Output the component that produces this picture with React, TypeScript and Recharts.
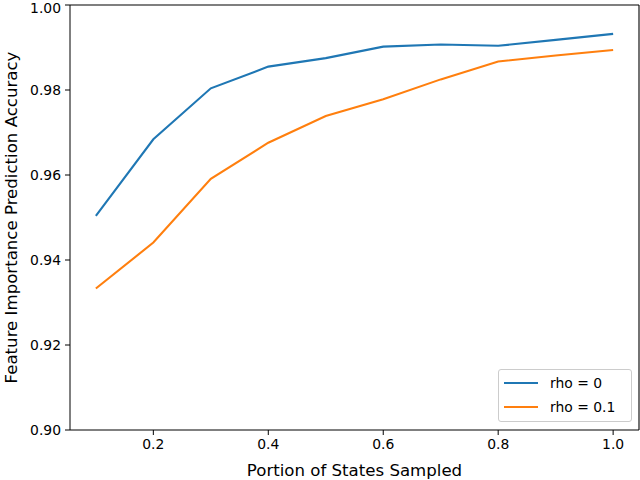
import React from "react";
import {
  LineChart,
  Line,
  XAxis,
  YAxis,
  Legend,
  ReferenceLine,
} from "recharts";

// x: portion of states sampled
const portions = [0.1, 0.2, 0.3, 0.4, 0.5, 0.6, 0.7, 0.8, 0.9, 1.0];
const rho0 = [0.9504, 0.9684, 0.9804, 0.9855, 0.9875, 0.9902, 0.9907, 0.9904, 0.9918, 0.9932];
const rho01 = [0.9333, 0.9441, 0.9591, 0.9676, 0.9739, 0.9778, 0.9825, 0.9867, 0.9881, 0.9894];

const xTicks = [0.2, 0.4, 0.6, 0.8, 1.0];
const yTicks = [0.9, 0.92, 0.94, 0.96, 0.98, 1.0];

const seriesNames = ["rho = 0", "rho = 0.1"];
const colors = ["#1f77b4", "#ff7f0e"];

const data = portions.map((p, i) => ({ x: p, a: rho0[i], b: rho01[i] }));

const FONT = "DejaVu Sans, sans-serif";
const FS = 13.9;
const LABEL_FS = 16.6;

const LegendBox = () => (
  <div
    style={{
      width: 134,
      height: 53,
      boxSizing: "border-box",
      border: "1px solid #cccccc",
      borderRadius: 3,
      background: "rgba(255,255,255,0.8)",
      fontFamily: FONT,
      fontSize: FS,
      position: "relative",
    }}
  >
    {seriesNames.map((name, i) => (
      <div
        key={name}
        style={{ position: "absolute", left: 5, top: 4 + i * 24, height: 18, display: "flex", alignItems: "center" }}
      >
        <div style={{ width: 34, height: 2.1, background: colors[i] }} />
        <span style={{ marginLeft: 12, color: "#000", whiteSpace: "nowrap" }}>{name}</span>
      </div>
    ))}
  </div>
);

export default function App() {
  return (
    <div style={{ position: "absolute", left: 0, top: 0, background: "#fff" }}>
      <LineChart width={640} height={480} data={data} margin={{ top: 5, right: 1, bottom: 0, left: 0 }}>
        <XAxis
          dataKey="x"
          type="number"
          domain={[0.055, 1.045]}
          ticks={xTicks}
          tickFormatter={(v: number) => v.toFixed(1)}
          height={50}
          tickSize={5}
          tickMargin={4}
          stroke="#000"
          tick={{ fill: "#000", fontFamily: FONT, fontSize: FS }}
          label={{
            content: (props: any) => {
              const vb = props.viewBox;
              return (
                <text x={vb.x + vb.width / 2} y={476} textAnchor="middle" fontFamily={FONT} fontSize={LABEL_FS} fill="#000">
                  Portion of States Sampled
                </text>
              );
            },
          }}
        />
        <YAxis
          type="number"
          domain={[0.9, 1.0]}
          ticks={yTicks}
          tickFormatter={(v: number) => v.toFixed(2)}
          width={70}
          tickSize={5}
          tickMargin={4}
          stroke="#000"
          tick={{ fill: "#000", fontFamily: FONT, fontSize: FS }}
          label={{
            content: (props: any) => {
              const vb = props.viewBox;
              const cy = vb.y + vb.height / 2;
              return (
                <text
                  x={16.5}
                  y={cy}
                  textAnchor="middle"
                  transform={`rotate(-90, 16.5, ${cy})`}
                  fontFamily={FONT}
                  fontSize={LABEL_FS}
                  fill="#000"
                >
                  Feature Importance Prediction Accuracy
                </text>
              );
            },
          }}
        />
        <ReferenceLine y={1.0} stroke="#000" strokeWidth={1.1} />
        <ReferenceLine x={1.045} stroke="#000" strokeWidth={1.1} />
        <Line type="linear" dataKey="a" name={seriesNames[0]} stroke={colors[0]} strokeWidth={2.1} dot={false} isAnimationActive={false} />
        <Line type="linear" dataKey="b" name={seriesNames[1]} stroke={colors[1]} strokeWidth={2.1} dot={false} isAnimationActive={false} />
        <Legend
          layout="vertical"
          align="center"
          verticalAlign="middle"
          content={() => <LegendBox />}
          wrapperStyle={{ left: 498, top: 369, width: 134, height: 53 }}
        />
      </LineChart>
    </div>
  );
}
